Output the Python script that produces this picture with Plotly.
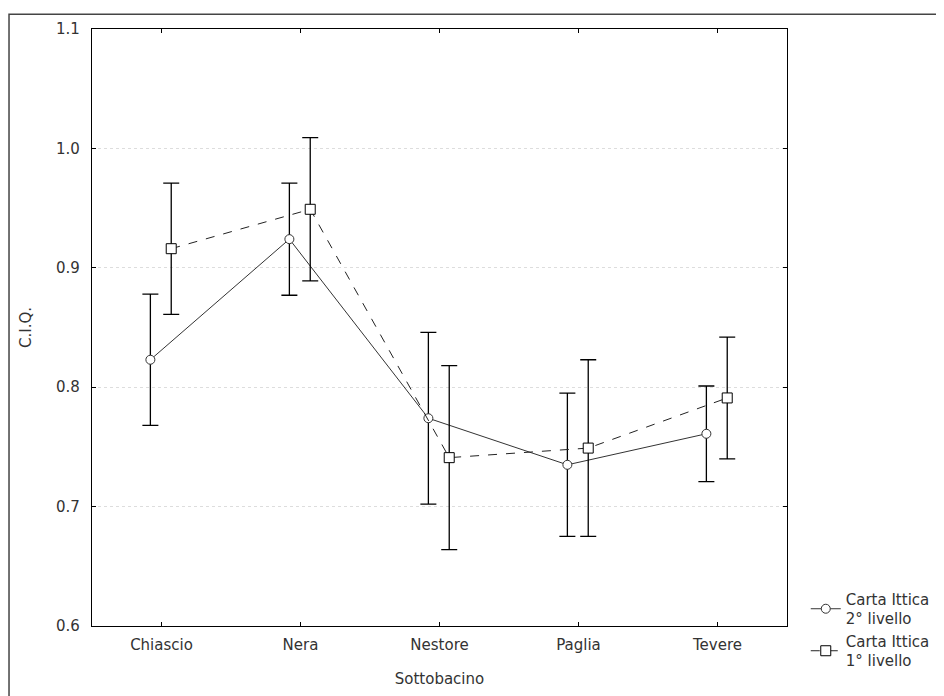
import plotly.graph_objects as go

categories = ["Chiascio", "Nera", "Nestore", "Paglia", "Tevere"]
liv2_mean = [0.823, 0.924, 0.774, 0.735, 0.761]
liv2_err = [0.055, 0.047, 0.072, 0.060, 0.040]
liv1_mean = [0.916, 0.949, 0.741, 0.749, 0.791]
liv1_err = [0.055, 0.060, 0.077, 0.074, 0.051]
y_ticks = [0.6, 0.7, 0.8, 0.9, 1.0, 1.1]

xi = list(range(len(categories)))
x2 = [i - 0.08 for i in xi]
x1 = [i + 0.07 for i in xi]

FONT = "DejaVu Sans, Arial, sans-serif"

fig = go.Figure()
fig.add_trace(go.Scatter(
    x=x2, y=liv2_mean, mode="lines+markers", name="Carta Ittica<br>2° livello",
    line=dict(color="#333333", width=1),
    marker=dict(symbol="circle", size=9, color="white", line=dict(color="#333333", width=1)),
    error_y=dict(type="data", array=liv2_err, visible=True, color="black", thickness=1.3, width=8),
))
fig.add_trace(go.Scatter(
    x=x1, y=liv1_mean, mode="lines+markers", name="Carta Ittica<br>1° livello",
    line=dict(color="#222222", width=1, dash="dash"),
    marker=dict(symbol="square", size=10, color="white", line=dict(color="black", width=1)),
    error_y=dict(type="data", array=liv1_err, visible=True, color="black", thickness=1.3, width=8),
))

fig.update_layout(
    width=944, height=696,
    margin=dict(l=84, r=165, t=16, b=78),
    paper_bgcolor="white", plot_bgcolor="white",
    font=dict(family=FONT, size=15, color="#333333"),
    showlegend=True,
    legend=dict(x=1.027, y=-0.085, xanchor="left", yanchor="bottom",
                font=dict(size=15), bgcolor="rgba(0,0,0,0)", itemwidth=30,
                tracegroupgap=0),
    shapes=[dict(type="rect", xref="paper", yref="paper",
                 x0=-0.1194, x1=1.25, y0=-0.2, y1=1.0249,
                 line=dict(color="#444444", width=1.5), layer="below")],
)
fig.update_xaxes(
    range=[-0.5, 4.5], tickmode="array", tickvals=xi, ticktext=categories,
    ticks="inside", ticklen=4, tickcolor="black",
    showline=True, linecolor="black", linewidth=1.3, mirror="ticks",
    showgrid=False, zeroline=False, ticklabelstandoff=5,
    title=dict(text="Sottobacino", standoff=20, font=dict(size=15)),
)
fig.update_yaxes(
    range=[0.6, 1.1], tickmode="array", tickvals=y_ticks,
    ticktext=[f"{v:.1f}" for v in y_ticks],
    ticks="inside", ticklen=4, tickcolor="black",
    showline=True, linecolor="black", linewidth=1.3, mirror="ticks",
    showgrid=True, gridcolor="#dddddd", griddash="dot", gridwidth=1,
    zeroline=False, ticklabelstandoff=8,
    title=dict(text="C.I.Q.", standoff=20, font=dict(size=15)),
)

fig.write_html("out.html")
